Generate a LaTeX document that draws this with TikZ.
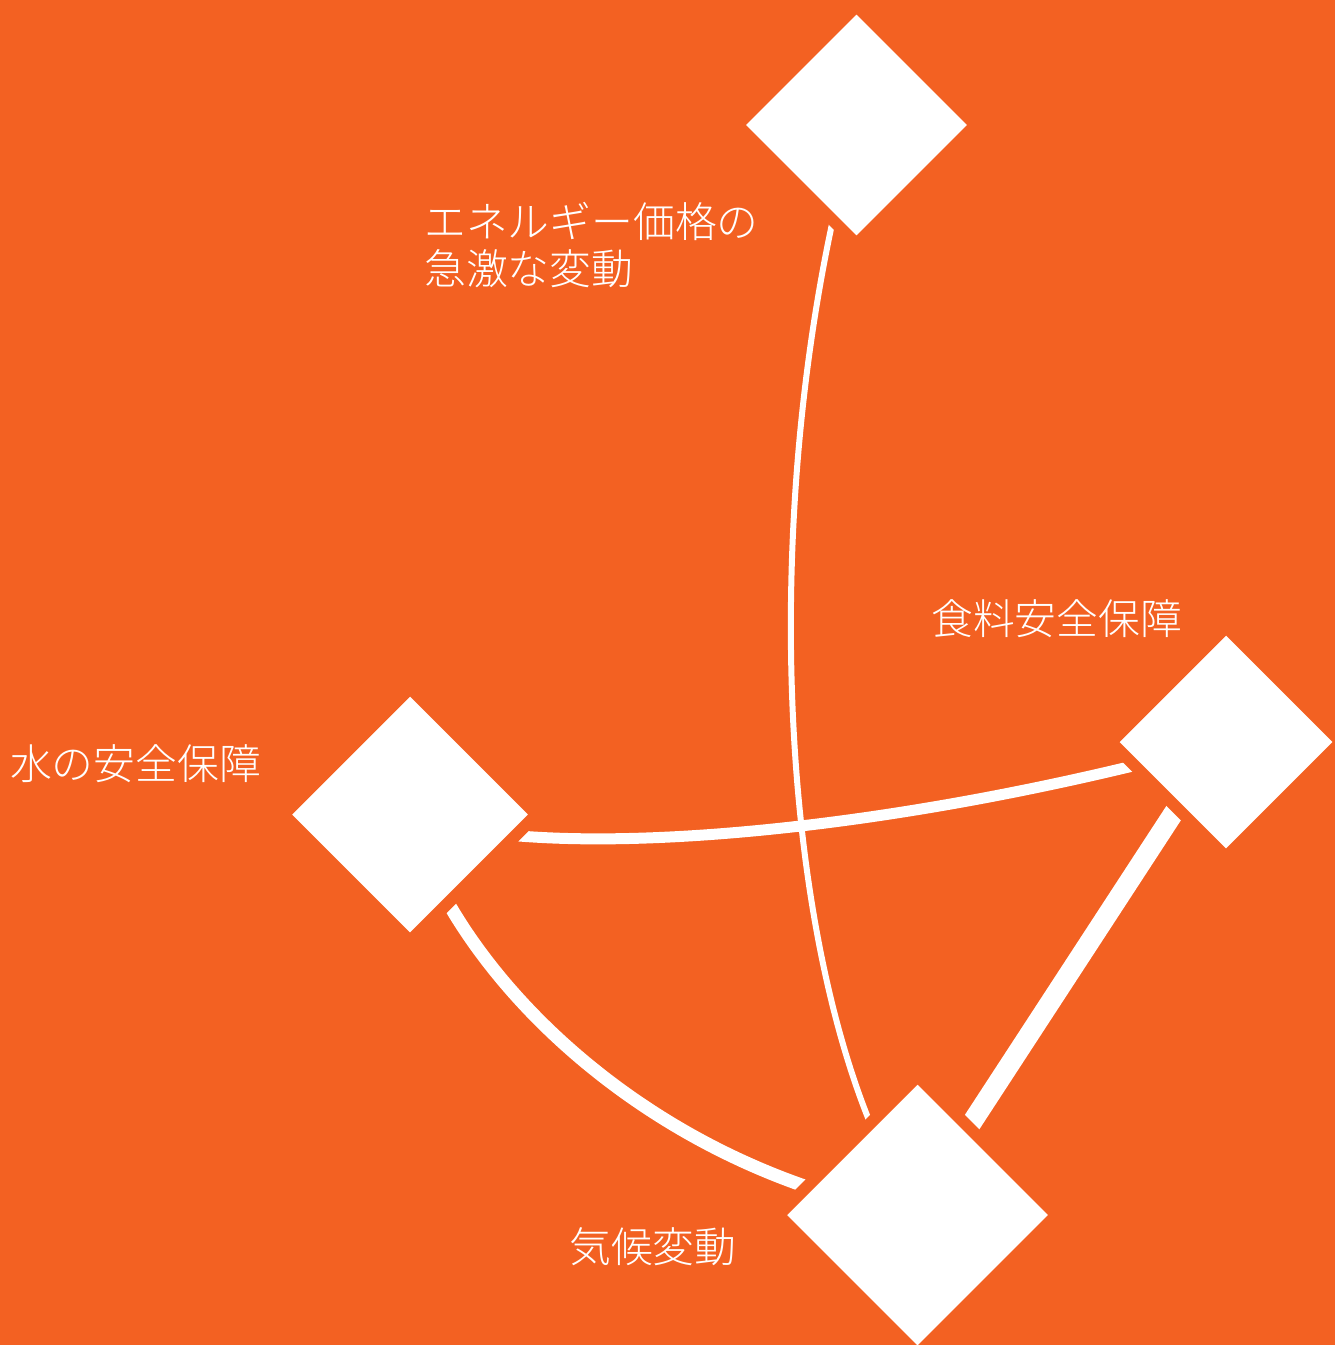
\documentclass[tikz,border=0pt]{standalone}
\usepackage{fontspec}
\newfontfamily\jpfont{Noto Sans CJK JP}[UprightFont=* Light]
\usetikzlibrary{shapes.geometric}
\definecolor{bgorange}{RGB}{243,97,34}
\tikzset{
  gem/.style={diamond, aspect=1, inner sep=0pt, outer sep=0pt, fill=white, draw=bgorange, line width=12pt, minimum size=#1},
  link/.style={draw=white, line cap=butt, line width=#1},
  lbl/.style={anchor=base west, inner sep=0pt, text=white, font=\jpfont\fontsize{41.8}{48}\selectfont}
}
\begin{document}
\begin{tikzpicture}[x=1pt,y=-1pt]
\fill[bgorange] (0,0) rectangle (1335,1345);
\useasboundingbox (0,0) rectangle (1335,1345);
% node centres (diamonds drawn later, over the connectors)
\coordinate (cE) at (856.5,125);
\coordinate (cF) at (1226,742);
\coordinate (cW) at (410,814.5);
\coordinate (cC) at (917.5,1215);
% connectors
\path[link=6pt] (cE) .. controls (750,500) and (775,1000) .. (cC);
\path[link=11pt] (cW) .. controls (520,860) and (850,845) .. (cF);
\path[link=13pt] (cW) .. controls (455,975) and (650,1170) .. (cC);
\path[link=20pt] ([xshift=-6pt]cF) -- ([xshift=-6pt]cC);
% diamonds
\node[gem=238pt] (energy) at (cE) {};
\node[gem=230pt] (food) at (cF) {};
\node[gem=253pt] (water) at (cW) {};
\node[gem=278pt] (climate) at (cC) {};
% labels
\node[lbl] (energyA) at (424,237) {エネルギー価格の};
\node[lbl] (energyB) at (424,284) {急激な変動};
\node[lbl] (waterL) at (10,779) {水の安全保障};
\node[lbl] (foodL) at (931,634) {食料安全保障};
\node[lbl] (climateL) at (569,1262) {気候変動};
\end{tikzpicture}
\end{document}
